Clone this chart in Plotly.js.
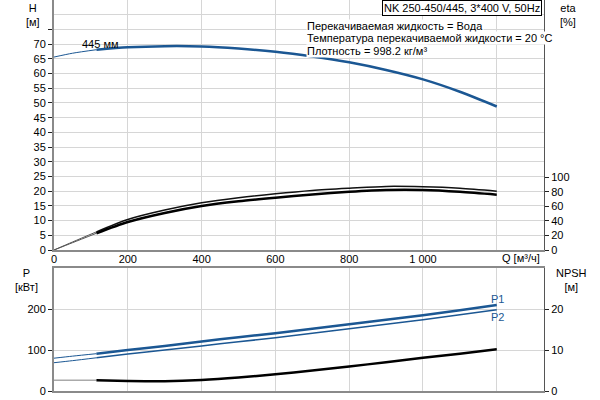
<!DOCTYPE html>
<html>
<head>
<meta charset="utf-8">
<script src="https://cdn.plot.ly/plotly-3.0.1.min.js"></script>
<style>html,body{margin:0;padding:0;background:#fff;}#chart{width:600px;height:400px;}</style>
</head>
<body>
<div id="chart"></div>
<script>
// ---- data ----
const q        = [0, 50, 115, 200, 300, 400, 500, 600, 700, 800, 900, 1000, 1100, 1200];
const head     = [65.6, 66.9, 68.1, 68.9, 69.3, 69.2, 68.5, 67.4, 65.8, 63.8, 61.2, 58.0, 53.8, 48.8];
const etaUpper = [0, 11, 25, 42, 55, 65, 72, 77.5, 82, 85, 87.5, 87, 85, 81];
const etaLower = [0, 10, 23, 38.5, 51, 60.5, 67, 72, 76.5, 80, 82.5, 82.5, 80, 76];
const p1       = [80, 85, 91, 100, 110, 121, 131, 141, 152, 163, 174, 185, 197, 210];
const p2       = [69, 74, 81, 90, 100, 110, 120, 130, 141, 152, 163, 174, 186, 198];
const npsh     = [2.6, 2.6, 2.6, 2.45, 2.4, 2.7, 3.3, 4.1, 5.0, 6.0, 7.0, 8.1, 9.1, 10.2];
const splitIdx = 2; // end of the thin (out-of-range) section, Q = 115

const qTickVals  = [0, 200, 400, 600, 800, 1000, 1200];
const qTickText  = ['0', '200', '400', '600', '800', '1 000', ''];
const hTickVals  = [0,5,10,15,20,25,30,35,40,45,50,55,60,65,70,75];
const hTickText  = ['0','5','10','15','20','25','30','35','40','45','50','55','60','65','70',''];
const etaTicks   = [0,20,40,60,80,100];
const pTicks     = [0,100,200];
const npshTicks  = [0,10,20];

const pumpTitle  = 'NK 250-450/445, 3*400 V, 50Hz';
const infoLines  = ['Перекачиваемая жидкость = Вода',
                    'Температура перекачиваемой жидкости = 20 °C',
                    'Плотность = 998.2 кг/м³'];
const impeller   = '445 мм';

// ---- helpers ----
const thin  = a => a.slice(0, splitIdx + 1);
const thick = a => a.slice(splitIdx);
const BLUE = '#1b5793';
const GRID = '#d6d6d6';
const AX = '#8a8a8a';
const FONT = 'Liberation Sans, Arial, sans-serif';

function tr(x, y, xa, ya, color, width) {
  return {x: x, y: y, xaxis: xa, yaxis: ya, type: 'scatter', mode: 'lines',
          line: {color: color, width: width, shape: 'spline', smoothing: 0.8},
          hoverinfo: 'skip'};
}

const data = [
  tr(thin(q), thin(head), 'x', 'y', BLUE, 1),
  tr(thick(q), thick(head), 'x', 'y', BLUE, 2.5),
  tr(thin(q), thin(etaUpper), 'x', 'y2', '#555', 1),
  tr(thin(q), thin(etaLower), 'x', 'y2', '#555', 1),
  tr(thick(q), thick(etaUpper), 'x', 'y2', '#111', 1.5),
  tr(thick(q), thick(etaLower), 'x', 'y2', '#000', 2.5),
  tr(thin(q), thin(p1), 'x2', 'y3', BLUE, 1),
  tr(thin(q), thin(p2), 'x2', 'y3', BLUE, 1),
  tr(thick(q), thick(p1), 'x2', 'y3', BLUE, 2.5),
  tr(thick(q), thick(p2), 'x2', 'y3', BLUE, 1.5),
  tr(thin(q), thin(npsh), 'x2', 'y4', '#aaaaaa', 1.5),
  tr(thick(q), thick(npsh), 'x2', 'y4', '#000', 2.5)
];

const tickFont = {family: FONT, size: 11, color: '#000'};
const plotH = 391;
const py = p => (plotH - p) / plotH;     // pixel row -> paper y
const px = p => (p - 54) / 490;          // pixel col -> paper x

const layout = {
  width: 600, height: 400,
  margin: {l: 54, r: 56, t: 0, b: 9, pad: 0},
  paper_bgcolor: '#fff', plot_bgcolor: '#fff',
  showlegend: false,
  font: {family: FONT, size: 11, color: '#000'},
  xaxis: {domain: [0, 1], anchor: 'y', range: [0, 1328],
          tickmode: 'array', tickvals: qTickVals, ticktext: qTickText,
          ticks: '', ticklabelstandoff: -2,
          showgrid: true, gridcolor: GRID, zeroline: false,
          showline: true, linecolor: AX, linewidth: 2, tickfont: tickFont},
  yaxis: {domain: [py(250), 1], range: [0, 85],
          tickmode: 'array', tickvals: hTickVals, ticktext: hTickText,
          ticks: 'outside', ticklen: 4, tickcolor: '#222',
          showgrid: true, gridcolor: GRID, zeroline: false,
          minor: {tickmode: 'linear', tick0: 0, dtick: 5, showgrid: true, gridcolor: GRID, ticks: ''},
          showline: true, linecolor: AX, linewidth: 2, tickfont: tickFont},
  yaxis2: {overlaying: 'y', side: 'right', anchor: 'x', range: [0, 344],
           tickmode: 'array', tickvals: etaTicks,
           ticks: 'outside', ticklen: 4, tickcolor: '#222',
           showgrid: false, zeroline: false,
           showline: true, linecolor: '#555', linewidth: 1, tickfont: tickFont},
  xaxis2: {domain: [0, 1], anchor: 'y3', range: [0, 1328],
           tickmode: 'array', tickvals: qTickVals, showticklabels: false,
           ticks: '', showgrid: true, gridcolor: GRID, zeroline: false,
           showline: true, mirror: true, linecolor: AX, linewidth: 2},
  yaxis3: {domain: [0, py(268)], anchor: 'x2', range: [0, 300],
           tickmode: 'array', tickvals: pTicks,
           ticks: 'outside', ticklen: 4, tickcolor: '#222',
           showgrid: true, gridcolor: GRID, zeroline: false,
           showline: true, linecolor: AX, linewidth: 2, tickfont: tickFont},
  yaxis4: {overlaying: 'y3', side: 'right', anchor: 'x2', range: [0, 30],
           tickmode: 'array', tickvals: npshTicks,
           ticks: 'outside', ticklen: 4, tickcolor: '#222',
           showgrid: false, zeroline: false,
           showline: true, linecolor: '#555', linewidth: 1, tickfont: tickFont},
  annotations: [
    {text: 'H<br>[м]', xref: 'paper', yref: 'paper', x: px(33), y: 1, xanchor: 'center', yanchor: 'top', showarrow: false, font: {size: 11}},
    {text: 'eta<br>[%]', xref: 'paper', yref: 'paper', x: px(568), y: 1, xanchor: 'center', yanchor: 'top', showarrow: false, font: {size: 11}},
    {text: 'P<br>[кВт]', xref: 'paper', yref: 'paper', x: px(26), y: py(265), xanchor: 'center', yanchor: 'top', showarrow: false, font: {size: 11}},
    {text: 'NPSH<br>[м]', xref: 'paper', yref: 'paper', x: px(571), y: py(265), xanchor: 'center', yanchor: 'top', showarrow: false, font: {size: 11}},
    {text: 'Q [м³/ч]', xref: 'paper', yref: 'paper', x: px(521), y: py(258), xanchor: 'center', yanchor: 'middle', showarrow: false, font: {size: 11}},
    {text: pumpTitle, xref: 'paper', yref: 'paper', x: px(542), y: 1, xanchor: 'right', yanchor: 'top', showarrow: false,
     bgcolor: '#fff', bordercolor: '#000', borderwidth: 1, borderpad: 1, font: {size: 11}},
    {text: infoLines[0], xref: 'paper', yref: 'paper', x: px(306), y: py(26), xanchor: 'left', yanchor: 'middle', showarrow: false, bgcolor: '#fff', borderpad: 0, font: {size: 11}},
    {text: infoLines[1], xref: 'paper', yref: 'paper', x: px(306), y: py(38.5), xanchor: 'left', yanchor: 'middle', showarrow: false, bgcolor: '#fff', borderpad: 0, font: {size: 11}},
    {text: infoLines[2], xref: 'paper', yref: 'paper', x: px(306), y: py(51), xanchor: 'left', yanchor: 'middle', showarrow: false, bgcolor: '#fff', borderpad: 0, font: {size: 11}},
    {text: impeller, xref: 'x', yref: 'y', x: 70, y: 70, xanchor: 'left', yanchor: 'middle', showarrow: false, font: {size: 11}},
    {text: 'P1', xref: 'x2', yref: 'y3', x: 1180, y: 225, xanchor: 'left', yanchor: 'middle', showarrow: false, font: {size: 11, color: BLUE}},
    {text: 'P2', xref: 'x2', yref: 'y3', x: 1180, y: 181, xanchor: 'left', yanchor: 'middle', showarrow: false, font: {size: 11, color: BLUE}}
  ]
};

Plotly.newPlot('chart', data, layout, {staticPlot: true, displayModeBar: false});
</script>
</body>
</html>
